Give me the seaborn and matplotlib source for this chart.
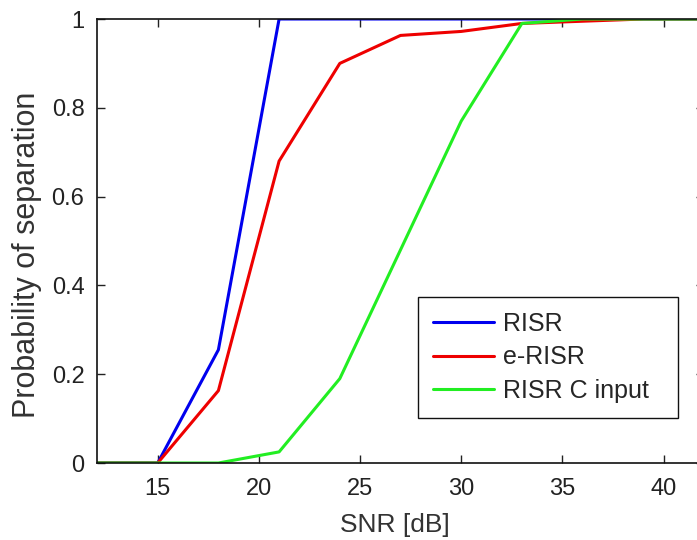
import numpy as np
import pandas as pd
import matplotlib
matplotlib.use("Agg")
import matplotlib.pyplot as plt
import seaborn as sns
from matplotlib.ticker import FormatStrFormatter

# SNR points in dB
snr = [12, 15, 18, 21, 24, 27, 30, 33, 36, 39, 42]
risr = [0, 0, 0.255, 1.0, 1.0, 1.0, 1.0, 1.0, 1.0, 1.0, 1.0]
e_risr = [0, 0, 0.163, 0.68, 0.90, 0.963, 0.972, 0.99, 0.995, 1.0, 1.0]
risr_c = [0, 0, 0, 0.025, 0.19, 0.48, 0.77, 0.99, 1.0, 1.0, 1.0]

names = ["RISR", "e-RISR", "RISR C input"]
colors = ["#0000ee", "#ee0000", "#22ee22"]

df = pd.DataFrame({
    "SNR": snr * 3,
    "p": risr + e_risr + risr_c,
    "method": [names[0]] * len(snr) + [names[1]] * len(snr) + [names[2]] * len(snr),
})

sns.set_theme(style="ticks")
plt.rcParams['font.family'] = ['Liberation Sans', 'DejaVu Sans']
plt.rcParams['xtick.direction'] = 'in'
plt.rcParams['ytick.direction'] = 'in'

fig = plt.figure(figsize=(6.97, 5.4), dpi=100)
ax = fig.add_axes([97 / 697, 77 / 540, 607 / 697, 444 / 540])

sns.lineplot(data=df, x="SNR", y="p", hue="method", palette=colors,
             linewidth=2.2, ax=ax, legend=True)

ax.set_xlim(12, 42)
ax.set_ylim(0, 1)
ax.set_xticks([15, 20, 25, 30, 35, 40])
ax.set_yticks([0, 0.2, 0.4, 0.6, 0.8, 1])
ax.yaxis.set_major_formatter(FormatStrFormatter('%g'))
ax.tick_params(top=True, right=True, length=6, width=1, labelsize=17, colors="#222222")
ax.tick_params(axis="x", pad=11)
ax.tick_params(axis="y", pad=9)
for s in ax.spines.values():
    s.set_linewidth(1.2)
    s.set_color("#111111")

ax.set_xlabel("SNR [dB]", fontsize=19, color="#333333")
ax.set_ylabel("Probability of separation", fontsize=22, color="#333333")
ax.xaxis.set_label_coords(0.491, -0.113)
ax.yaxis.set_label_coords(-0.091, 0.468)

leg = ax.legend(loc="lower left", bbox_to_anchor=(321 / 607, 45 / 444, 260 / 607, 122 / 444),
                mode="expand", borderaxespad=0, fontsize=18, frameon=True, fancybox=False,
                handlelength=2.45, borderpad=0.6, labelspacing=0.38, handletextpad=0.36)
leg.get_frame().set_edgecolor("#111111")
leg.get_frame().set_linewidth(1.0)
leg.get_frame().set_alpha(1)

fig.savefig("out.png", dpi=100)
